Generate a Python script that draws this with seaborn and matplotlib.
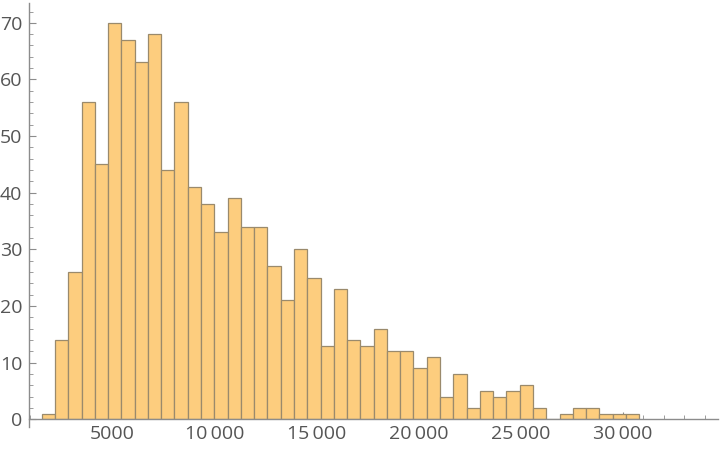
import matplotlib
matplotlib.use("Agg")
import matplotlib.pyplot as plt
import numpy as np
import seaborn as sns
from matplotlib.ticker import FuncFormatter, MultipleLocator

# histogram counts (45 bins)
counts = [1, 14, 26, 56, 45, 70, 67, 63, 68, 44, 56, 41, 38, 33, 39,
          34, 34, 27, 21, 30, 25, 13, 23, 14, 13, 16, 12, 12, 9, 11,
          4, 8, 2, 5, 4, 5, 6, 2, 0, 1, 2, 2, 1, 1, 1]
bin_start = 1550
bin_width = 650
edges = [bin_start + bin_width * i for i in range(len(counts) + 1)]
centers = [(a + b) / 2 for a, b in zip(edges[:-1], edges[1:])]

sns.set_style("white")
plt.rcParams["font.family"] = ["Open Sans", "DejaVu Sans"]

fig = plt.figure(figsize=(7.2, 4.49), dpi=100)
ax = fig.add_axes([0.0403, 0.0661, 0.9567, 0.9272])

sns.histplot(x=centers, weights=counts, bins=edges, ax=ax,
             color="#FDCD7E", alpha=1.0, edgecolor="#9a8a6c", linewidth=0.9)

ax.set_xlim(930, 34650)
ax.set_ylim(0, 73.5)
ax.set_xlabel("")
ax.set_ylabel("")

for side in ["top", "right"]:
    ax.spines[side].set_visible(False)
for side in ["left", "bottom"]:
    ax.spines[side].set_color("#8c8c8c")
    ax.spines[side].set_linewidth(1.0)
ax.spines["left"].set_bounds(-1.4, 73.5)

ax.xaxis.set_major_locator(MultipleLocator(5000))
ax.xaxis.set_minor_locator(MultipleLocator(1000))
ax.yaxis.set_major_locator(MultipleLocator(10))
ax.yaxis.set_minor_locator(MultipleLocator(2))


def thousands(v, _):
    v = int(round(v))
    if v >= 10000:
        return f"{v // 1000}\u2009{v % 1000:03d}"
    return str(v)


ax.xaxis.set_major_formatter(FuncFormatter(thousands))
ax.tick_params(axis="both", which="major", direction="in", length=5,
               width=0.8, color="#8c8c8c", labelsize=14, labelcolor="#555555")
ax.tick_params(axis="both", which="minor", direction="in", length=3,
               width=0.6, color="#8c8c8c")
ax.tick_params(axis="x", which="both", bottom=True, pad=4)
ax.tick_params(axis="y", which="both", left=True, pad=5)

fig.savefig("out.png", dpi=100)
